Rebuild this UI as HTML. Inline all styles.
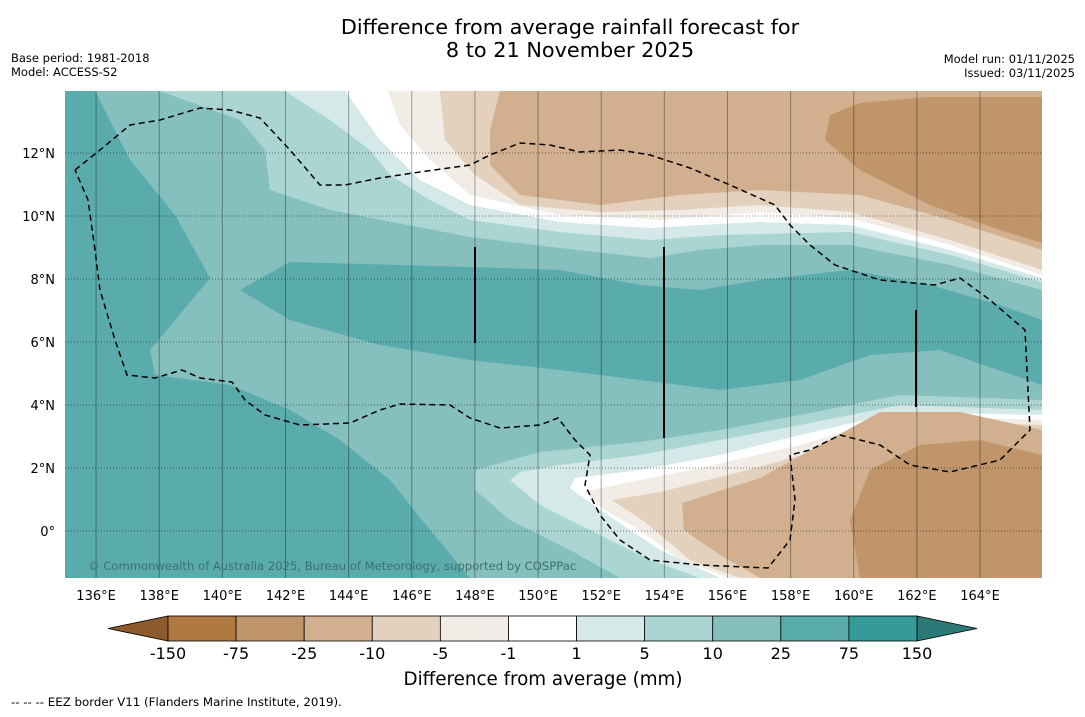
<!DOCTYPE html>
<html><head><meta charset="utf-8"><style>
body{margin:0;background:#fff;font-family:"DejaVu Sans","Liberation Sans",sans-serif;}
</style></head><body>
<svg width="1085" height="713" viewBox="0 0 1085 713" xmlns="http://www.w3.org/2000/svg" font-family="DejaVu Sans, Liberation Sans, sans-serif">
<text x="570" y="34" font-size="20.8" text-anchor="middle">Difference from average rainfall forecast for</text>
<text x="570" y="57" font-size="20.8" text-anchor="middle">8 to 21 November 2025</text>
<text x="11" y="62" font-size="11.5">Base period: 1981-2018</text>
<text x="11" y="76" font-size="11.5">Model: ACCESS-S2</text>
<text x="1075" y="63" font-size="11.5" text-anchor="end">Model run: 01/11/2025</text>
<text x="1075" y="77" font-size="11.5" text-anchor="end">Issued: 03/11/2025</text>
<defs><clipPath id="mc"><rect x="65" y="91" width="977" height="487"/></clipPath></defs>
<g clip-path="url(#mc)">
<rect x="65" y="91" width="977" height="487" fill="#5aabab"/>
<polygon fill="#85bfbe" points="95,91 130,160 175,215 210,278 175,320 150,350 155,375 230,385 290,410 340,440 390,480 430,530 470,578 1042,578 1042,385 940,350 870,355 800,380 720,390 640,380 560,370 470,360 380,345 290,320 240,290 290,262 470,267 560,270 640,285 700,290 760,280 850,270 930,285 1000,305 1042,320 1042,91"/>
<polygon fill="#aad5d3" points="160,91 240,120 265,150 270,190 330,210 470,237 560,248 650,258 700,250 760,245 850,245 950,265 1042,290 1042,91"/>
<polygon fill="#aad5d3" points="475,470 475,490 510,520 570,550 620,578 1042,578 1042,400 900,395 800,415 720,430 640,442 540,452"/>
<polygon fill="#d5e9e8" points="285,91 330,120 370,150 390,175 430,200 470,220 560,232 650,240 720,235 850,232 950,255 1042,282 1042,91"/>
<polygon fill="#d5e9e8" points="510,480 540,505 590,530 650,560 700,578 1042,578 1042,410 900,405 800,425 720,440 640,455 560,465 520,472"/>
<polygon fill="#ffffff" points="345,91 380,140 420,180 470,205 560,222 650,228 700,225 760,222 850,225 950,250 1042,278 1042,91"/>
<polygon fill="#ffffff" points="570,488 600,510 660,550 720,578 1042,578 1042,415 900,412 800,435 720,455 640,470 575,478"/>
<polygon fill="#f2ece6" points="388,91 400,125 430,160 470,195 560,215 660,220 760,212 850,218 950,245 1042,275 1042,91"/>
<polygon fill="#f2ece6" points="585,492 605,510 640,530 680,560 730,578 1042,578 1042,420 900,415 800,445 700,468 620,484"/>
<polygon fill="#e3d0bd" points="440,91 445,140 475,175 520,205 600,212 680,210 760,205 850,212 950,240 1042,270 1042,91"/>
<polygon fill="#e3d0bd" points="612,500 645,522 690,560 740,578 1042,578 1042,425 900,420 820,450 740,472 660,492"/>
<polygon fill="#d2b08f" points="500,91 490,130 490,165 520,195 600,205 680,195 760,190 860,195 950,220 1042,250 1042,91"/>
<polygon fill="#d2b08f" points="682,503 684,530 720,555 760,578 1042,578 1042,430 960,412 880,412 820,445 760,478"/>
<polygon fill="#c0956a" points="830,115 825,140 860,170 930,205 1000,230 1042,243 1042,97 930,97 860,103"/>
<polygon fill="#c0956a" points="870,470 850,520 860,578 1042,578 1042,455 980,440 920,445"/>
<g id="grid"></g>
<polyline fill="none" stroke="#000" stroke-width="1.5" stroke-dasharray="6,4" points="75,170 100,150 130,125 160,120 200,108 230,110 260,118 290,150 320,185 345,185 380,178 420,172 470,165 490,155 520,143 550,145 580,152 620,150 650,155 690,168 730,185 775,205 790,225 810,245 835,265 880,280 935,285 960,278 990,300 1025,330 1030,430 1000,460 950,472 910,465 880,445 860,440 840,435 810,450 790,455 795,500 790,540 768,568 700,565 650,560 620,540 600,515 585,485 590,455 575,440 558,418 540,425 500,428 470,418 450,405 400,404 380,410 350,423 300,425 265,415 245,400 232,382 200,378 182,370 155,378 127,375 115,340 100,290 95,250 88,200 75,170"/>
<line x1="475" y1="247" x2="475" y2="343" stroke="#000" stroke-width="2"/>
<line x1="664" y1="247" x2="664" y2="438" stroke="#000" stroke-width="2"/>
<line x1="916" y1="310" x2="916" y2="407" stroke="#000" stroke-width="2"/>
<text x="88" y="570" font-size="11.6" fill="#3d6f6d">© Commonwealth of Australia 2025, Bureau of Meteorology, supported by COSPPac</text>
</g>
<g id="axes"></g>
<g id="cbar"></g>
<text x="543" y="685" font-size="18.3" text-anchor="middle">Difference from average (mm)</text>
<text x="11" y="706" font-size="11.8">--  --  -- EEZ border V11 (Flanders Marine Institute, 2019).</text>
</svg>
<script>
const lonTicks=[136,138,140,142,144,146,148,150,152,154,156,158,160,162,164];
const latTicks=[12,10,8,6,4,2,0];
const levelLabels=["-150","-75","-25","-10","-5","-1","1","5","10","25","75","150"];
const levelColors=["#b07941","#c0956a","#d2b08f","#e3d0bd","#f2ece6","#ffffff","#d5e9e8","#aad5d3","#85bfbe","#5aabab","#359a98"];
const NS="http://www.w3.org/2000/svg";
const xLon=l=>64.5+(l-135)*31.57;
const yLat=l=>531-l*31.5;
function mk(t,a,p){const e=document.createElementNS(NS,t);for(const k in a)e.setAttribute(k,a[k]);p.appendChild(e);return e;}
const grid=document.getElementById('grid'),axes=document.getElementById('axes'),cb=document.getElementById('cbar');
lonTicks.forEach(l=>{const x=xLon(l);
const g=mk('line',{x1:x,y1:91,x2:x,y2:578,stroke:'#000','stroke-opacity':0.35,'stroke-width':1},grid);


const t=mk('text',{x:x,y:600,'font-size':13,'text-anchor':'middle'},axes);t.textContent=l+'°E';

});
latTicks.forEach(l=>{const y=yLat(l);
const g=mk('line',{x1:65,y1:y,x2:1042,y2:y,stroke:'#000','stroke-opacity':0.5,'stroke-width':1,'stroke-dasharray':'1,2'},grid);


const t=mk('text',{x:55,y:y+5,'font-size':13,'text-anchor':'end'},axes);t.textContent=l===0?'0°':l+'°N';

});
const x0=168,x1=917,cy=616,ch=25,w=(x1-x0)/levelColors.length;
const lt=mk('polygon',{points:`108,${cy+ch/2} ${x0},${cy} ${x0},${cy+ch}`,fill:'#8c5a2b',stroke:'#000','stroke-width':0.8},cb);


const rt=mk('polygon',{points:`977,${cy+ch/2} ${x1},${cy} ${x1},${cy+ch}`,fill:'#2b7a78',stroke:'#000','stroke-width':0.8},cb);


levelColors.forEach((c,i)=>{const r=mk('rect',{x:x0+i*w,y:cy,width:w,height:ch,fill:c,stroke:'#000','stroke-width':0.8},cb);

});
levelLabels.forEach((s,i)=>{const t=mk('text',{x:x0+i*w,y:659,'font-size':16,'text-anchor':'middle'},cb);t.textContent=s;

});
</script>
</body></html>
